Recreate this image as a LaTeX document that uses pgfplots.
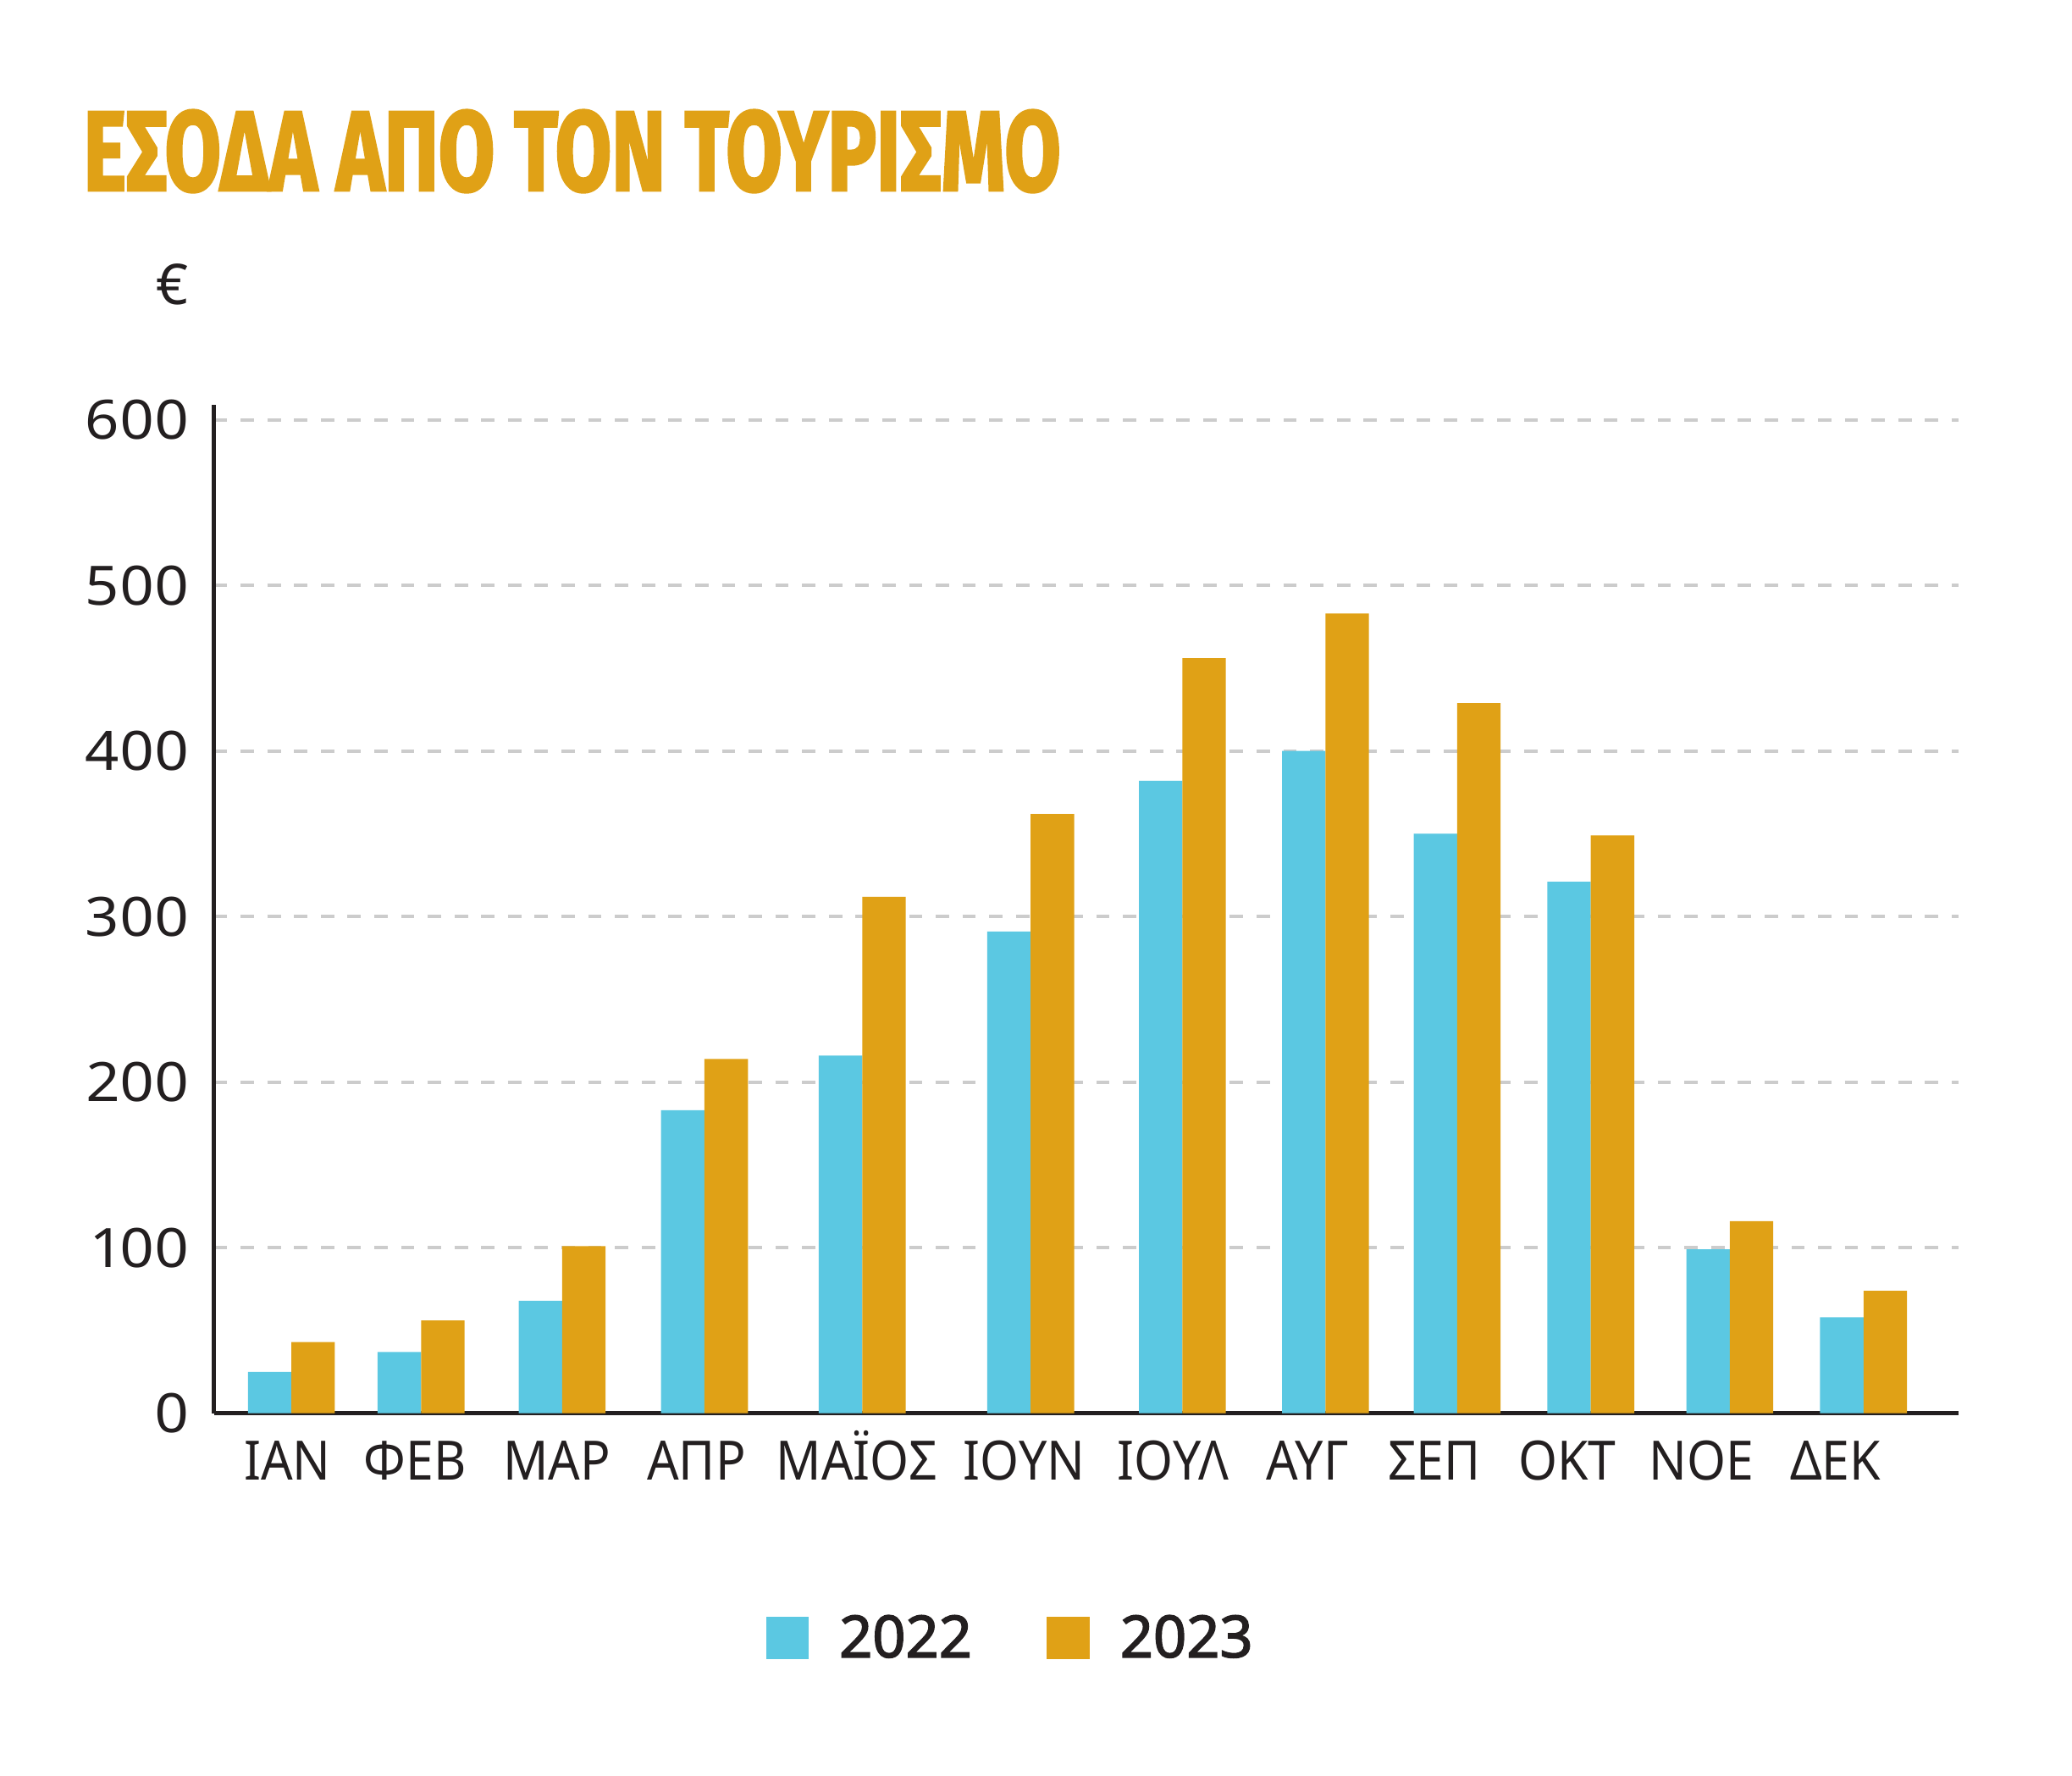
\documentclass[border=0pt]{standalone}
\usepackage{pgfplots}
\pgfplotsset{compat=1.18}
\usepackage{fontspec}
\setmainfont{Noto Sans}
\newfontfamily\numfont[Numbers=Proportional, FakeStretch=1.1]{Noto Sans}
\newfontfamily\monthfont[FakeStretch=0.92]{Noto Sans}
\newfontfamily\legfont[FakeBold=2.2]{Noto Sans}
\newfontfamily\titlefont[FakeBold=2.5]{Fira Sans}
\definecolor{c2022}{HTML}{5BC8E2}
\definecolor{c2023}{HTML}{E0A116}
\definecolor{ink}{HTML}{231F20}
\definecolor{gridgray}{HTML}{CCCCCC}

\begin{document}
\begin{tikzpicture}[x=0.5pt,y=0.5pt]
\useasboundingbox (0,0) rectangle (1550,1328);
% title and unit
\node[anchor=north west, inner sep=0pt, text=c2023] at (62,1246)
  {\resizebox{365.5pt}{30pt}{\titlefont\bfseries ΕΣΟΔΑ ΑΠΟ ΤΟΝ ΤΟΥΡΙΣΜΟ}};
\node[inner sep=0pt, text=ink] at (129,1115) {\fontsize{21}{25}\selectfont €};
\begin{axis}[
  at={(80pt,135.5pt)}, anchor=south west,
  scale only axis, width=652.5pt, height=377pt,
  xmin=160, xmax=1465, ymin=0, ymax=608.9,
  axis lines=left, axis line style={-, line width=1.5pt, ink},
  major tick length=0pt, tick style={draw=none},
  xtick={215,310.5,416.5,521,641,766,877.5,978,1073,1172.5,1273,1373},
  xticklabels={ΙΑΝ,ΦΕΒ,ΜΑΡ,ΑΠΡ,ΜΑΪΟΣ,ΙΟΥΝ,ΙΟΥΛ,ΑΥΓ,ΣΕΠ,ΟΚΤ,ΝΟΕ,ΔΕΚ},
  xticklabel style={anchor=base, inner sep=0pt, yshift=-25pt,
    font=\monthfont\fontsize{20.3}{24}\selectfont, text=ink},
  ytick={0,100,...,600},
  yticklabels={0,100,200,300,400,500,600},
  yticklabel style={anchor=east, inner sep=0pt, xshift=-9pt,
    font=\numfont\fontsize{20.3}{24}\selectfont, text=ink},
  ymajorgrids, grid style={gridgray, line width=1.25pt, dash pattern=on 5pt off 5pt},
  legend columns=2, legend cell align=left,
  legend style={at={(rel axis cs:0.3165,-0.2003)}, anchor=north west,
    draw=none, fill=none, inner sep=0pt, outer sep=0pt,
    font=\legfont\fontsize{21.7}{26}\selectfont, text=ink,
    nodes={inner sep=0pt},
    /tikz/every odd column/.append style={column sep=11.5pt},
    /tikz/every even column/.append style={column sep=28pt}},
]
\addplot[ybar, bar width=32.5, bar shift=-16.25, fill=c2022, draw=none, forget plot]
  coordinates {(218,25) (315,37) (420.5,68) (527,183) (645,216) (771,291)
               (884.5,382) (991.5,400) (1090,350) (1190,321) (1294,99) (1394,58)};
\addplot[ybar, bar width=32.5, bar shift=16.25, fill=c2023, draw=none, forget plot]
  coordinates {(218,43) (315,56) (420.5,101) (527,214) (645,312) (771,362)
               (884.5,456) (991.5,483) (1090,429) (1190,349) (1294,116) (1394,74)};
\addlegendimage{legend image code/.code={\fill[c2022] (0pt,-7.75pt) rectangle (15.5pt,7.75pt);}}
\addlegendentry{2022}
\addlegendimage{legend image code/.code={\fill[c2023] (0pt,-7.75pt) rectangle (15.5pt,7.75pt);}}
\addlegendentry{2023}
\end{axis}
\end{tikzpicture}
\end{document}
